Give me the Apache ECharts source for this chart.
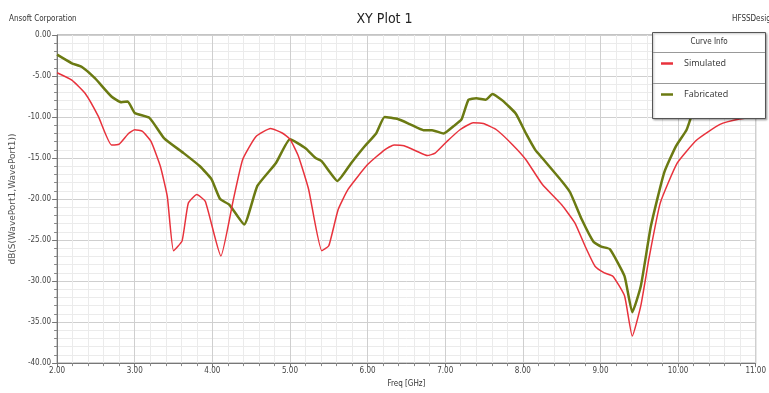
<!DOCTYPE html>
<html><head><meta charset="utf-8">
<script src="https://cdn.jsdelivr.net/npm/echarts@6/dist/echarts.min.js"></script>
<style>html,body{margin:0;padding:0;background:#fff}#c{width:769px;height:393px}</style>
</head><body><div id="c"></div>
<script>
const xTicks = [2,3,4,5,6,7,8,9,10,11];
const yTicks = [0,-5,-10,-15,-20,-25,-30,-35,-40];
const seriesNames = ['Simulated','Fabricated'];
const simFreq = [2.0,2.19,2.36,2.53,2.70,2.80,2.92,3.0,3.10,3.21,3.33,3.42,3.50,3.61,3.69,3.80,3.91,4.11,4.27,4.39,4.56,4.75,4.90,5.0,5.11,5.24,5.41,5.50,5.62,5.75,6.0,6.22,6.34,6.47,6.64,6.77,6.87,7.02,7.19,7.36,7.49,7.66,7.87,8.04,8.25,8.50,8.67,8.80,8.93,9.05,9.16,9.31,9.41,9.52,9.63,9.77,9.99,10.24,10.54,10.79,11.0];
const simDb = [-4.6,-5.5,-7.1,-9.9,-13.4,-13.3,-12.0,-11.55,-11.75,-12.97,-16.0,-19.7,-26.3,-25.1,-20.5,-19.45,-20.3,-26.95,-20.1,-15.2,-12.4,-11.4,-11.95,-12.7,-14.8,-18.8,-26.3,-25.7,-21.3,-18.8,-15.8,-14.0,-13.4,-13.5,-14.2,-14.7,-14.4,-13.0,-11.55,-10.7,-10.8,-11.55,-13.4,-15.2,-18.2,-20.7,-22.9,-25.7,-28.2,-29.0,-29.4,-31.8,-36.7,-33.0,-27.0,-20.5,-15.6,-12.8,-10.9,-10.25,-10.0];
const fabFreq = [2.0,2.19,2.32,2.49,2.70,2.83,2.91,3.0,3.19,3.38,3.63,3.84,3.99,4.10,4.22,4.41,4.58,4.82,5.0,5.20,5.33,5.41,5.52,5.61,5.79,5.96,6.11,6.22,6.39,6.55,6.72,6.83,6.98,7.11,7.21,7.30,7.40,7.52,7.61,7.74,7.91,8.04,8.16,8.25,8.50,8.61,8.76,8.91,9.01,9.12,9.31,9.41,9.52,9.65,9.82,9.97,10.11,10.20,10.30];
const fabDb = [-2.4,-3.45,-3.9,-5.3,-7.5,-8.2,-8.1,-9.5,-10.1,-12.6,-14.4,-16.0,-17.6,-20.0,-20.7,-23.1,-18.4,-15.6,-12.7,-13.8,-15.0,-15.4,-16.8,-17.8,-15.6,-13.6,-12.0,-10.0,-10.25,-10.9,-11.6,-11.6,-12.0,-11.1,-10.3,-7.9,-7.7,-7.9,-7.2,-8.0,-9.6,-12.0,-14.0,-15.0,-17.8,-19.2,-22.5,-25.2,-25.8,-26.1,-29.4,-33.8,-30.6,-23.3,-16.8,-13.6,-11.55,-9.1,-7.0];

const narrow = '"DejaVu Sans Condensed","Liberation Sans Narrow",Arial,sans-serif';
const chart = echarts.init(document.getElementById('c'), null, {renderer:'canvas'});
const pair = (xs, ys) => xs.map((x,i)=>[x, ys[i]]);
chart.setOption({
  animation:false,
  backgroundColor:'#fff',
  title:[
    {text:'XY Plot 1', left:'center', top:7, textStyle:{fontFamily:narrow, fontSize:14, fontWeight:'normal', color:'#222'}},
    {text:'Ansoft Corporation', left:4, top:10, textStyle:{fontFamily:narrow, fontSize:8, fontWeight:'normal', color:'#333'}},
    {text:'HFSSDesign1', left:727, top:10, textStyle:{fontFamily:narrow, fontSize:8, fontWeight:'normal', color:'#333'}}
  ],
  grid:{left:55, right:6, top:35, bottom:29, show:true, borderColor:'#888', borderWidth:1},
  xAxis:{
    type:'value', min:xTicks[0], max:xTicks[xTicks.length-1], interval:1,
    name:'Freq [GHz]', nameLocation:'middle', nameGap:16,
    nameTextStyle:{fontFamily:narrow, fontSize:8, color:'#333'},
    axisLine:{show:true, onZero:false, lineStyle:{color:'#777'}},
    axisTick:{show:true, length:4, lineStyle:{color:'#777'}},
    minorTick:{show:true, splitNumber:5, length:3, lineStyle:{color:'#888'}},
    axisLabel:{fontFamily:narrow, fontSize:8, color:'#444', margin:4, formatter:v=>v.toFixed(2)},
    splitLine:{show:true, lineStyle:{color:'#cfcfcf', width:1}},
    minorSplitLine:{show:true, lineStyle:{color:'#ebebeb', width:1}}
  },
  yAxis:{
    type:'value', min:yTicks[yTicks.length-1], max:yTicks[0], interval:5,
    name:'dB(S(WavePort1,WavePort1))', nameLocation:'middle', nameGap:40, nameRotate:90,
    nameTextStyle:{fontFamily:'"DejaVu Sans",sans-serif', fontSize:9, color:'#555'},
    axisLine:{show:true, lineStyle:{color:'#777'}},
    axisTick:{show:true, length:5, lineStyle:{color:'#777'}},
    minorTick:{show:true, splitNumber:5, length:3, lineStyle:{color:'#888'}},
    axisLabel:{fontFamily:narrow, fontSize:8, color:'#444', margin:6, formatter:v=>v.toFixed(2)},
    splitLine:{show:true, lineStyle:{color:'#cfcfcf', width:1}},
    minorSplitLine:{show:true, lineStyle:{color:'#ebebeb', width:1}}
  },
  legend:{
    data:seriesNames, orient:'vertical', left:656, top:54, z:30,
    itemGap:22, icon:'rect', itemWidth:12, itemHeight:2.5,
    textStyle:{fontFamily:'"Open Sans","Noto Sans",sans-serif', fontSize:9, color:'#333', padding:[0,0,0,6]}
  },
  graphic:[
    {type:'rect', z:20, shape:{x:652.5, y:32.5, width:113, height:86}, style:{fill:'#fff', stroke:'#555', lineWidth:1, shadowBlur:2, shadowColor:'rgba(0,0,0,0.3)', shadowOffsetX:1, shadowOffsetY:1}},
    {type:'line', z:21, shape:{x1:653, y1:52.5, x2:765, y2:52.5}, style:{stroke:'#999', lineWidth:1}},
    {type:'line', z:21, shape:{x1:653, y1:83.5, x2:765, y2:83.5}, style:{stroke:'#999', lineWidth:1}},
    {type:'text', z:22, x:709, y:42, style:{text:'Curve Info', fontFamily:narrow, fontSize:8, fill:'#333', align:'center', verticalAlign:'middle'}}
  ],
  series:[
    {name:seriesNames[0], type:'line', data:pair(simFreq, simDb), showSymbol:false, smooth:0.15, z:3,
     lineStyle:{color:'#e8323c', width:1.5}, itemStyle:{color:'#e8323c'}},
    {name:seriesNames[1], type:'line', data:pair(fabFreq, fabDb), showSymbol:false, smooth:0.15, z:2,
     lineStyle:{color:'#6b7a12', width:2.5}, itemStyle:{color:'#6b7a12'}}
  ]
});
</script></body></html>
